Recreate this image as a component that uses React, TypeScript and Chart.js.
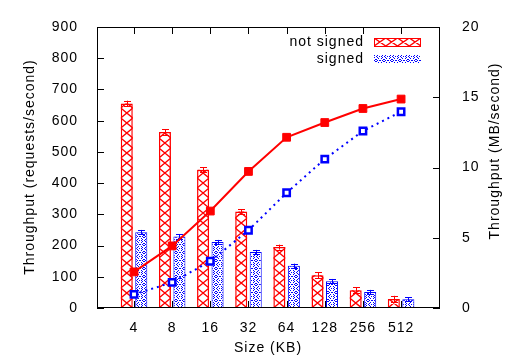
import { useEffect, useRef } from 'react';
import { Chart, registerables } from 'chart.js';

Chart.register(...registerables);

// ---- data ----
const sizes = ['4', '8', '16', '32', '64', '128', '256', '512'];
const notSignedReqs = [655, 564, 443, 309, 195, 105, 57, 29];
const signedReqs = [243, 229, 211, 179, 135, 86, 51, 28];
const notSignedReqsErr = [9, 9, 8, 8, 8, 10, 10, 10];
const signedReqsErr = [7, 7, 7, 7, 7, 7, 7, 7];
const notSignedMB = [2.57, 4.42, 6.9, 9.72, 12.15, 13.2, 14.2, 14.87];
const signedMB = [0.97, 1.82, 3.33, 5.53, 8.2, 10.6, 12.6, 13.97];
const leftTicks = [0, 100, 200, 300, 400, 500, 600, 700, 800, 900];
const rightTicks = [0, 5, 10, 15, 20];
const legendLabels = ['not signed', 'signed'];
const axisTitles = { y: 'Throughput (requests/second)', y2: 'Throughput (MB/second)', x: 'Size (KB)' };

const RED = '#ff0000';
const BLUE = '#0000ff';
const FAMILY = '"Liberation Sans", Arial, Helvetica, sans-serif';
const FONT_SIZE = 14;

const bluePatternRows = [
  '#..#.#..',
  '.#....#.',
  '..#..#..',
  '#......#',
  '.#.##.#.',
  '#......#',
  '..#..#..',
  '.#....#.',
];

function makeBluePattern(): CanvasPattern | string {
  const c = document.createElement('canvas');
  c.width = 8;
  c.height = 8;
  const g = c.getContext('2d');
  if (!g) return BLUE;
  g.fillStyle = '#ffffff';
  g.fillRect(0, 0, 8, 8);
  g.fillStyle = BLUE;
  bluePatternRows.forEach((row, y) => {
    for (let x = 0; x < row.length; x++) if (row[x] === '#') g.fillRect(x, y, 1, 1);
  });
  const ctx = document.createElement('canvas').getContext('2d');
  return (ctx && ctx.createPattern(c, 'repeat')) || BLUE;
}

function drawCrossHatch(ctx: CanvasRenderingContext2D, L: number, T: number, R: number, B: number, vertical: boolean) {
  ctx.save();
  ctx.beginPath();
  ctx.rect(L, T, R - L, B - T);
  ctx.clip();
  ctx.strokeStyle = RED;
  ctx.lineWidth = 1.4;
  ctx.beginPath();
  if (vertical) {
    const p = 10;
    for (let y = B; y > T - p; y -= p) {
      ctx.moveTo(L, y);
      ctx.lineTo(R, y - p);
      ctx.moveTo(R, y);
      ctx.lineTo(L, y - p);
    }
  } else {
    const n = 4;
    const w = (R - L) / n;
    for (let i = 0; i < n; i++) {
      ctx.moveTo(L + i * w, T);
      ctx.lineTo(L + (i + 1) * w, B);
      ctx.moveTo(L + (i + 1) * w, T);
      ctx.lineTo(L + i * w, B);
    }
  }
  ctx.stroke();
  ctx.restore();
}

const decor = {
  id: 'decor',
  beforeDraw(chart: any) {
    chart.ctx.letterSpacing = '1px';
  },
  afterDatasetDraw(chart: any, args: any) {
    const ds = chart.data.datasets[args.index];
    if (ds.type !== 'bar') return;
    const ctx: CanvasRenderingContext2D = chart.ctx;
    const yScale = chart.scales.y;
    const isRed = ds.label === legendLabels[0];
    const vals = isRed ? notSignedReqs : signedReqs;
    const errs = isRed ? notSignedReqsErr : signedReqsErr;
    const area = chart.chartArea;
    args.meta.data.forEach((el: any, i: number) => {
      const L = el.x - el.width / 2;
      const R = el.x + el.width / 2;
      if (isRed) drawCrossHatch(ctx, L, el.y, R, el.base, true);
      // error bar
      const x = Math.round(el.x) + 0.5;
      const yt = yScale.getPixelForValue(vals[i] + errs[i]);
      const yb = yScale.getPixelForValue(vals[i] - errs[i]);
      ctx.save();
      ctx.strokeStyle = isRed ? RED : BLUE;
      ctx.lineWidth = 1;
      ctx.beginPath();
      ctx.moveTo(x, yt);
      ctx.lineTo(x, Math.min(yb, area.bottom));
      ctx.moveTo(x - 3.5, Math.round(yt) + 0.5);
      ctx.lineTo(x + 3.5, Math.round(yt) + 0.5);
      if (yb < area.bottom) {
        ctx.moveTo(x - 3.5, Math.round(yb) + 0.5);
        ctx.lineTo(x + 3.5, Math.round(yb) + 0.5);
      }
      ctx.stroke();
      ctx.restore();
    });
  },
  afterDraw(chart: any) {
    const ctx: CanvasRenderingContext2D = chart.ctx;
    const { left, right, top, bottom } = chart.chartArea;
    const xs = chart.scales.x;
    const ys = chart.scales.y;
    const y2s = chart.scales.y2;
    ctx.save();
    ctx.letterSpacing = '1px';
    // frame
    ctx.strokeStyle = '#000';
    ctx.lineWidth = 1;
    ctx.strokeRect(left + 0.5, top + 0.5, right - left - 1, bottom - top - 1);
    ctx.beginPath();
    const tl = 7;
    leftTicks.forEach((v) => {
      const y = Math.round(ys.getPixelForValue(v)) + 0.5;
      ctx.moveTo(left, y);
      ctx.lineTo(left + tl, y);
    });
    rightTicks.forEach((v) => {
      const y = Math.round(y2s.getPixelForValue(v)) + 0.5;
      ctx.moveTo(right, y);
      ctx.lineTo(right - tl, y);
    });
    sizes.forEach((_, i) => {
      const x = Math.round(xs.getPixelForValue(i)) + 0.5;
      ctx.moveTo(x, bottom);
      ctx.lineTo(x, bottom - tl);
      ctx.moveTo(x, top);
      ctx.lineTo(x, top + tl);
    });
    ctx.stroke();

    // titles
    ctx.fillStyle = '#000';
    ctx.font = `${FONT_SIZE}px ${FAMILY}`;
    ctx.textAlign = 'center';
    ctx.textBaseline = 'middle';
    ctx.fillText(axisTitles.x, 268, 348);
    ctx.save();
    ctx.translate(30, 167);
    ctx.rotate(-Math.PI / 2);
    ctx.fillText(axisTitles.y, 0, 0);
    ctx.restore();
    ctx.save();
    ctx.translate(495, 151);
    ctx.rotate(-Math.PI / 2);
    ctx.fillText(axisTitles.y2, 0, 0);
    ctx.restore();

    // legend
    ctx.textAlign = 'right';
    ctx.fillText(legendLabels[0], 364, 42);
    ctx.fillText(legendLabels[1], 364, 59);
    ctx.fillStyle = '#fff';
    ctx.fillRect(374, 38, 47, 8);
    drawCrossHatch(ctx, 374, 38, 421, 46, false);
    ctx.strokeStyle = RED;
    ctx.lineWidth = 1;
    ctx.strokeRect(374.5, 38.5, 46, 8);
    const bp = chart.data.datasets[3].backgroundColor;
    ctx.fillStyle = bp;
    ctx.fillRect(374, 55, 47, 8);
    ctx.restore();
  },
};

export default function App() {
  const ref = useRef<HTMLCanvasElement | null>(null);
  useEffect(() => {
    if (!ref.current) return;
    const font = { family: FAMILY, size: FONT_SIZE };
    const bluePattern = makeBluePattern();
    const chart = new Chart(ref.current, {
      type: 'bar',
      data: {
        datasets: [
          {
            type: 'line',
            label: 'not signed MB/s',
            data: notSignedMB.map((y, i) => ({ x: i, y })),
            yAxisID: 'y2',
            borderColor: RED,
            backgroundColor: RED,
            borderWidth: 2,
            pointStyle: 'rect',
            pointRadius: 5.5,
            pointBorderWidth: 1,
            pointBackgroundColor: RED,
            pointBorderColor: RED,
            order: 1,
          } as any,
          {
            type: 'line',
            label: 'signed MB/s',
            data: signedMB.map((y, i) => ({ x: i, y })),
            yAxisID: 'y2',
            borderColor: BLUE,
            backgroundColor: '#fff',
            borderWidth: 2,
            borderDash: [2, 4],
            pointStyle: 'rect',
            pointRadius: 4.5,
            pointBorderWidth: 2.5,
            pointBackgroundColor: '#fff',
            pointBorderColor: BLUE,
            order: 1,
          } as any,
          {
            type: 'bar',
            label: legendLabels[0],
            data: notSignedReqs.map((y, i) => ({ x: i, y })),
            yAxisID: 'y',
            backgroundColor: '#fff',
            borderColor: RED,
            borderWidth: 1.5,
            barPercentage: 0.83,
            categoryPercentage: 0.76,
            order: 2,
          } as any,
          {
            type: 'bar',
            label: legendLabels[1],
            data: signedReqs.map((y, i) => ({ x: i, y })),
            yAxisID: 'y',
            backgroundColor: bluePattern,
            borderColor: BLUE,
            borderWidth: 1,
            barPercentage: 0.83,
            categoryPercentage: 0.76,
            order: 2,
          } as any,
        ],
      },
      options: {
        animation: false,
        responsive: true,
        maintainAspectRatio: false,
        layout: { padding: { top: 27, left: 0, right: 0, bottom: 0 } },
        plugins: { legend: { display: false }, tooltip: { enabled: false } },
        scales: {
          x: {
            type: 'linear',
            min: -0.97,
            max: 8.02,
            offset: false,
            grid: { display: false },
            border: { display: false },
            afterBuildTicks: (s: any) => {
              s.ticks = sizes.map((_, i) => ({ value: i }));
            },
            ticks: {
              callback: (v: any) => sizes[v as number],
              font,
              color: '#000',
              padding: 4,
              maxRotation: 0,
              autoSkip: false,
            },
            afterFit: (s: any) => {
              s.height = 51;
            },
          },
          y: {
            position: 'left',
            min: 0,
            max: 900,
            grid: { display: false },
            border: { display: false },
            afterBuildTicks: (s: any) => {
              s.ticks = leftTicks.map((v) => ({ value: v }));
            },
            ticks: { font, color: '#000', padding: 11 },
            afterFit: (s: any) => {
              s.width = 97;
            },
          },
          y2: {
            position: 'right',
            min: 0,
            max: 20,
            grid: { display: false },
            border: { display: false },
            afterBuildTicks: (s: any) => {
              s.ticks = rightTicks.map((v) => ({ value: v }));
            },
            ticks: { font, color: '#000', padding: 14 },
            afterFit: (s: any) => {
              s.width = 92;
            },
          },
        },
      } as any,
      plugins: [decor],
    });
    return () => chart.destroy();
  }, []);
  return (
    <div style={{ position: 'fixed', left: 0, top: 0, width: 532, height: 359, background: '#fff' }}>
      <canvas ref={ref} />
    </div>
  );
}
